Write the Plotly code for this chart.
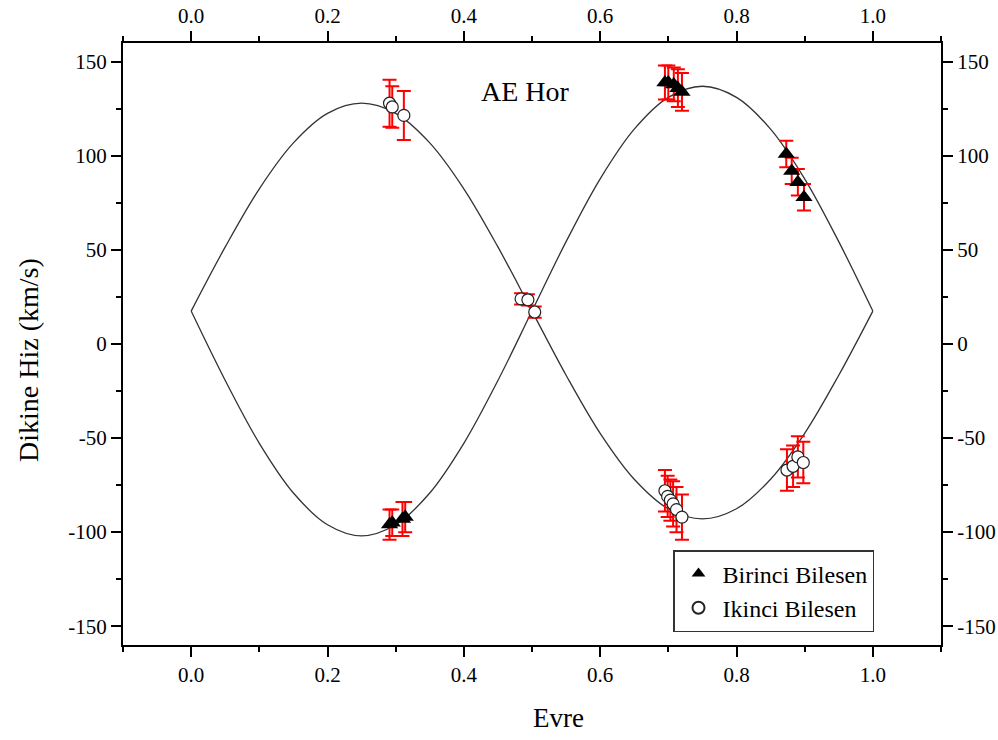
import plotly.graph_objects as go

# Model curves (phase, velocity)
curve_phase = [0.0, 0.05, 0.10, 0.15, 0.20, 0.25, 0.30, 0.35, 0.40, 0.45, 0.50,
               0.55, 0.60, 0.65, 0.70, 0.75, 0.80, 0.85, 0.90, 0.95, 1.0]
curve_primary = [17.5, -19.4, -52.8, -79.2, -96.1, -102.0, -96.1, -79.2, -52.8, -19.4, 17.5,
                 54.4, 87.8, 114.2, 131.1, 137.0, 131.1, 114.2, 87.8, 54.4, 17.5]
curve_secondary = [17.5, 51.6, 82.5, 106.9, 122.6, 128.0, 122.6, 106.9, 82.5, 51.6, 17.5,
                   -16.6, -47.5, -71.9, -87.6, -93.0, -87.6, -71.9, -47.5, -16.6, 17.5]

# Primary component (Birinci Bilesen)
p1_phase = [0.291, 0.295, 0.310, 0.314, 0.695, 0.700, 0.708, 0.714, 0.720, 0.873, 0.881, 0.890, 0.899]
p1_vel = [-96, -95, -93, -92, 139, 139, 138, 136, 134, 101, 92, 86, 78]
p1_err = [8, 7, 9, 8, 9, 9, 9, 10, 10, 7, 7, 7, 7]

# Secondary component (Ikinci Bilesen)
p2_phase = [0.291, 0.295, 0.312, 0.484, 0.494, 0.504, 0.695, 0.699, 0.703, 0.707, 0.712, 0.720,
            0.874, 0.883, 0.890, 0.898]
p2_vel = [128, 126, 121.5, 24, 23.5, 17, -78, -81, -83, -85, -88, -92, -67, -65, -60, -63]
p2_err = [12.5, 11, 13, 3, 3, 3, 11, 11, 11, 12, 12, 12, 11, 11, 11, 11]

xticks = [0.0, 0.2, 0.4, 0.6, 0.8, 1.0]
xtick_text = ["0.0", "0.2", "0.4", "0.6", "0.8", "1.0"]
yticks = [150, 100, 50, 0, -50, -100, -150]
ytick_text = ["150", "100", "50", "0", "-50", "-100", "-150"]

FONT = "Liberation Serif, Times New Roman, serif"
W, H = 998, 740
ML, MR, MT, MB = 123, 57, 43, 95

fig = go.Figure()
fig.add_trace(go.Scatter(x=curve_phase, y=curve_primary, mode="lines", line=dict(color="#333333", width=1.3, shape="spline"),
                         showlegend=False, hoverinfo="skip"))
fig.add_trace(go.Scatter(x=curve_phase, y=curve_secondary, mode="lines", line=dict(color="#333333", width=1.3, shape="spline"),
                         showlegend=False, hoverinfo="skip"))
fig.add_trace(go.Scatter(x=p1_phase, y=p1_vel, mode="markers", name="Birinci Bilesen",
                         marker=dict(symbol="triangle-up", size=15, color="black"),
                         error_y=dict(type="data", array=p1_err, color="red", thickness=2, width=7)))
fig.add_trace(go.Scatter(x=p2_phase, y=p2_vel, mode="markers", name="Ikinci Bilesen",
                         marker=dict(symbol="circle", size=12, color="white", line=dict(color="#222222", width=1.2)),
                         error_y=dict(type="data", array=p2_err, color="red", thickness=2, width=7)))
# invisible trace to anchor mirrored labelled axes
fig.add_trace(go.Scatter(x=[0.5], y=[0], xaxis="x2", yaxis="y2", mode="markers",
                         marker=dict(opacity=0), showlegend=False, hoverinfo="skip"))

axis_common = dict(showgrid=False, zeroline=False, showline=True, linecolor="black", linewidth=2,
                   ticks="outside", ticklen=10, tickwidth=2, tickcolor="black", automargin=False,
                   tickfont=dict(family=FONT, size=21, color="black"))

def px_x(px):
    return (px - ML) / (W - ML - MR)

def px_y(py):
    return (H - MB - py) / (H - MT - MB)

fig.update_layout(
    width=W, height=H,
    margin=dict(l=ML, r=MR, t=MT, b=MB, autoexpand=False),
    paper_bgcolor="white", plot_bgcolor="white",
    font=dict(family=FONT, color="black"),
    xaxis=dict(range=[-0.1, 1.1], tickvals=xticks, ticktext=xtick_text,
               minor=dict(dtick=0.1, tick0=0, ticks="outside", ticklen=5, tickwidth=2, tickcolor="black"),
               **axis_common),
    yaxis=dict(range=[-160, 160], tickvals=yticks, ticktext=ytick_text,
               minor=dict(dtick=25, tick0=0, ticks="outside", ticklen=5, tickwidth=2, tickcolor="black"),
               **axis_common),
    xaxis2=dict(range=[-0.1, 1.1], overlaying="x", side="top", anchor="y", tickvals=xticks, ticktext=xtick_text,
                minor=dict(dtick=0.1, tick0=0, ticks="outside", ticklen=5, tickwidth=2, tickcolor="black"),
                **axis_common),
    yaxis2=dict(range=[-160, 160], overlaying="y", side="right", anchor="x", tickvals=yticks, ticktext=ytick_text,
                minor=dict(dtick=25, tick0=0, ticks="outside", ticklen=5, tickwidth=2, tickcolor="black"),
                **axis_common),
    legend=dict(x=px_x(673), y=px_y(550), xanchor="left", yanchor="top", bgcolor="white",
                bordercolor="#333333", borderwidth=1.5, font=dict(family=FONT, size=24, color="black"),
                itemsizing="constant", itemwidth=38, tracegroupgap=0),
    annotations=[
        dict(x=0.49, y=134, xref="x", yref="y", text="AE Hor", showarrow=False,
             font=dict(family=FONT, size=28, color="black")),
        dict(x=px_x(558), y=px_y(718), xref="paper", yref="paper", text="Evre", showarrow=False,
             xanchor="center", yanchor="middle", font=dict(family=FONT, size=27, color="black")),
        dict(x=px_x(29), y=px_y(360), xref="paper", yref="paper", text="Dikine Hiz (km/s)", showarrow=False,
             textangle=-90, xanchor="center", yanchor="middle", font=dict(family=FONT, size=28, color="black")),
    ],
)

fig.write_html("out.html", config={"displayModeBar": False},
               post_script="document.body.style.margin='0';")
